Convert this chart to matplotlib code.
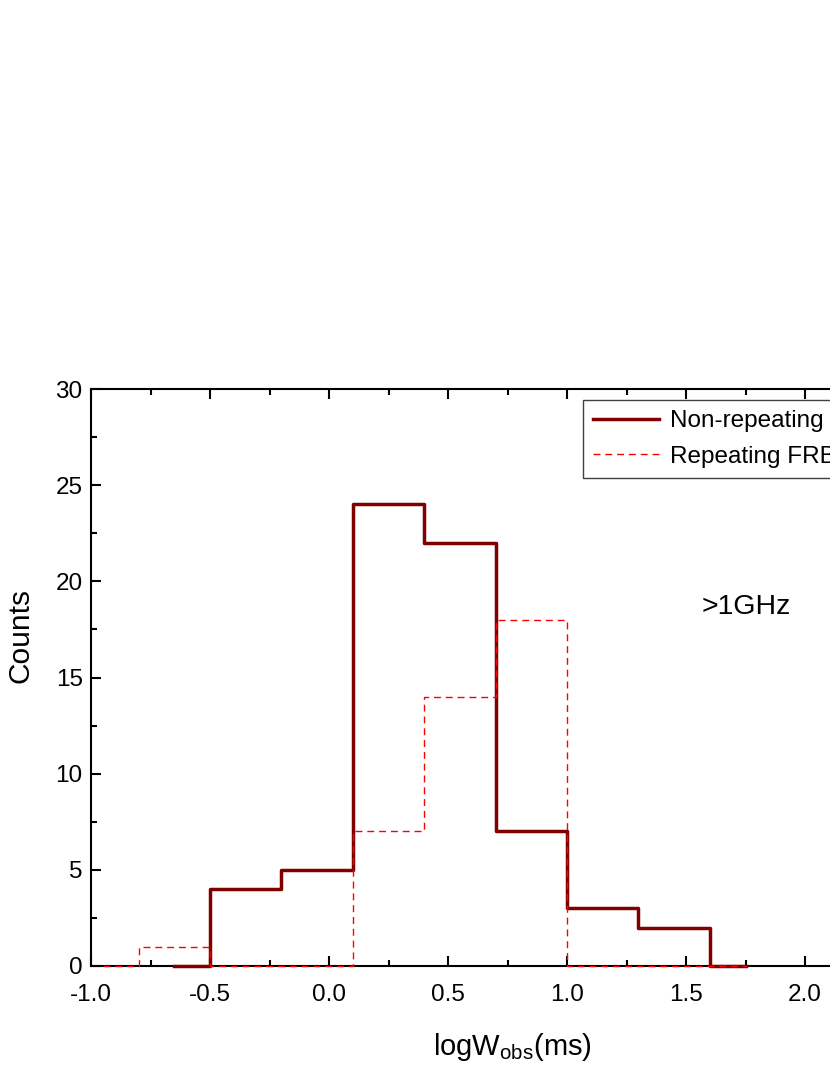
import matplotlib.pyplot as plt
import numpy as np
from matplotlib.ticker import MultipleLocator

plt.rcParams['font.family'] = ['Liberation Sans', 'DejaVu Sans']
plt.rcParams['mathtext.fontset'] = 'custom'
plt.rcParams['mathtext.rm'] = 'Liberation Sans'

# bin centres (bin width 0.3) and counts
nonrep_x = [-0.65, -0.35, -0.05, 0.25, 0.55, 0.85, 1.15, 1.45, 1.75]
nonrep_counts = [0, 4, 5, 24, 22, 7, 3, 2, 0]

rep_x = [-0.95, -0.65, -0.35, -0.05, 0.25, 0.55, 0.85, 1.15, 1.45, 1.75]
rep_counts = [0, 1, 0, 0, 7, 14, 18, 0, 0, 0]

labels = ["Non-repeating FRBs", "Repeating FRBs"]
band_text = ">1GHz"

xmin, xmax = -1.0, 2.2
px_per_unit = 238

fig = plt.figure(figsize=(8.3, 10.75), dpi=100)
# axes runs past the right edge, as in the (cropped) original
ax_w = (xmax - xmin) * px_per_unit
ax = fig.add_axes([91 / 830, 109 / 1075, ax_w / 830, 577 / 1075])

ax.step(nonrep_x, nonrep_counts, where='mid', color='#800000', lw=2.5,
        label=labels[0], clip_on=False, zorder=3)
ax.step(rep_x, rep_counts, where='mid', color='#ff0000', lw=1.0,
        linestyle=(0, (5, 3.5)), label=labels[1], clip_on=False, zorder=4)

ax.set_xlim(xmin, xmax)
ax.set_ylim(0, 30)
ax.xaxis.set_major_locator(MultipleLocator(0.5))
ax.xaxis.set_minor_locator(MultipleLocator(0.25))
ax.yaxis.set_major_locator(MultipleLocator(5))
ax.yaxis.set_minor_locator(MultipleLocator(2.5))
ax.xaxis.set_major_formatter(plt.FuncFormatter(lambda v, p: "%.1f" % v))

ax.tick_params(which='both', direction='in', top=True, right=True, width=1.5)
ax.tick_params(which='major', length=7, labelsize=17.5)
ax.tick_params(which='minor', length=4)
ax.tick_params(axis='x', pad=13)
ax.tick_params(axis='y', pad=6)
for s in ax.spines.values():
    s.set_linewidth(1.5)

ax.set_xlabel(r"logW$_\mathregular{obs}$(ms)", fontsize=21)
ax.set_ylabel("Counts", fontsize=21.5)
ax.xaxis.set_label_coords((512 - 91) / ax_w, -0.112)
ax.yaxis.set_label_coords(-0.068 * 833 / ax_w, 0.572)

ax.text(1.567, 18.67, band_text, fontsize=20.5, ha='left', va='center')

leg = ax.legend(loc='upper left', bbox_to_anchor=(583 / 830, 1 - 400 / 1075),
                bbox_transform=fig.transFigure, borderaxespad=0, fontsize=17.5,
                fancybox=False, framealpha=1, edgecolor='#404040',
                handlelength=2.7, handletextpad=0.45, labelspacing=0.55,
                borderpad=0.42)
leg.get_frame().set_linewidth(1.0)

plt.savefig("out.png", dpi=100)
plt.close()
